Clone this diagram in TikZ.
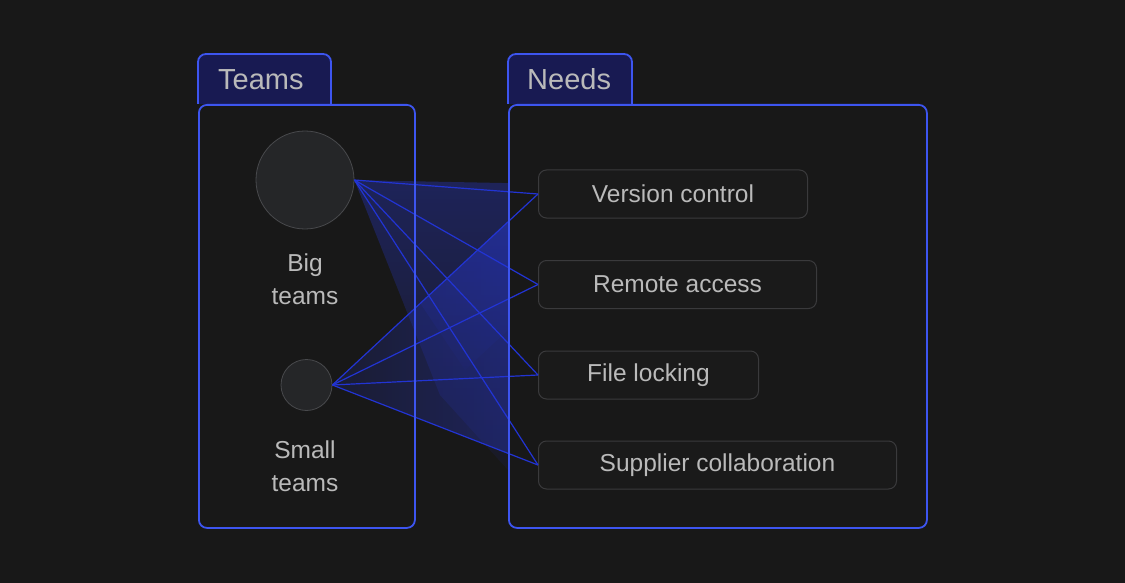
\documentclass[tikz,border=0pt]{standalone}
\usepackage{fontspec}
\setmainfont{Liberation Sans}
\usetikzlibrary{fadings}
\definecolor{bgc}{HTML}{181818}
\definecolor{tabfill}{HTML}{181A52}
\definecolor{bordc}{HTML}{3D55F0}
\definecolor{linkc}{HTML}{2234D4}
\definecolor{fanc}{HTML}{2A3AD8}
\definecolor{needborder}{HTML}{3A3A3C}
\definecolor{needfill}{HTML}{1A1A1A}
\definecolor{dotfill}{HTML}{252628}
\definecolor{dotborder}{HTML}{48494C}
\definecolor{txtc}{HTML}{BABABA}
\tikzfading[name=fadeleft, left color=transparent!60, right color=transparent!0]
\tikzfading[name=fadedown, top color=transparent!0, bottom color=transparent!80]
\begin{document}
\begin{tikzpicture}[x=1pt,y=-1pt,
  tabtxt/.style={text=txtc, font=\fontsize{29}{34}\selectfont, inner sep=0pt, anchor=north west, align=left},
  tabshape/.style={fill=tabfill, draw=bordc, line width=1.8pt, rounded corners=8pt},
  panel/.style={draw=bordc, line width=1.8pt, rounded corners=8pt, anchor=north west, inner sep=0pt},
  dot/.style={circle, fill=dotfill, draw=dotborder, line width=0.8pt, inner sep=0pt},
  lbl/.style={text=txtc, align=center, font=\fontsize{24.5}{33}\selectfont, inner sep=0pt},
  need/.style={draw=needborder, fill=needfill, line width=1pt, rounded corners=8pt, minimum height=48pt, anchor=west, text=txtc, font=\fontsize{24.5}{30}\selectfont, inner sep=0pt},
  link/.style={draw=linkc, line width=1.2pt}
]
\fill[bgc] (0,0) rectangle (1125,583);
\useasboundingbox (0,0) rectangle (1125,583);

% circles and labels
\node[dot, minimum size=98pt] (big) at (305,180) {};
\node[dot, minimum size=51pt] (small) at (306.5,385) {};
\node[lbl] (biglbl) at (305,279) {Big\\teams};
\node[lbl] (smalllbl) at (305,466.5) {Small\\teams};

% needs
\node[need, minimum width=269pt] (vc) at (538,194) {Version control};
\node[need, minimum width=278pt] (ra) at (538,284.5) {Remote access};
\node[need, minimum width=220pt] (fl) at (538,375) {File locking};
\node[need, minimum width=358pt] (sc) at (538,465) {Supplier collaboration};

% fans (soft glow between the links)
\fill[fanc, fill opacity=0.34, path fading=fadedown] (big.east) -- (508,183) -- (508,470) -- (440,395) -- cycle;
\fill[fanc, fill opacity=0.34, path fading=fadeleft] (small.east) -- (508,222) -- (508,453) -- cycle;
\fill[fanc, fill opacity=0.2, path fading=fadedown] (420,303) -- (508,222) -- (508,330) -- (465,370) -- cycle;

% links
\foreach \n in {vc,ra,fl,sc}{
  \draw[link] (big.east) -- (\n.west);
  \draw[link] (small.east) -- (\n.west);
}

% tabs
\path[tabshape] (198,104) -- (198,54) -- (331,54) -- (331,104);
\path[tabshape] (508,104) -- (508,54) -- (632,54) -- (632,104);
\node[tabtxt, minimum width=133pt, minimum height=50pt, text width=93pt, inner xsep=20pt] (teamstab) at (198,54) {Teams};
\node[tabtxt, minimum width=124pt, minimum height=50pt, text width=86pt, inner xsep=19pt] (needstab) at (508,54) {Needs};

% panels
\node[panel, minimum width=216pt, minimum height=423pt] (teamsbox) at (198,104) {};
\node[panel, minimum width=418pt, minimum height=423pt] (needsbox) at (508,104) {};
\end{tikzpicture}
\end{document}
